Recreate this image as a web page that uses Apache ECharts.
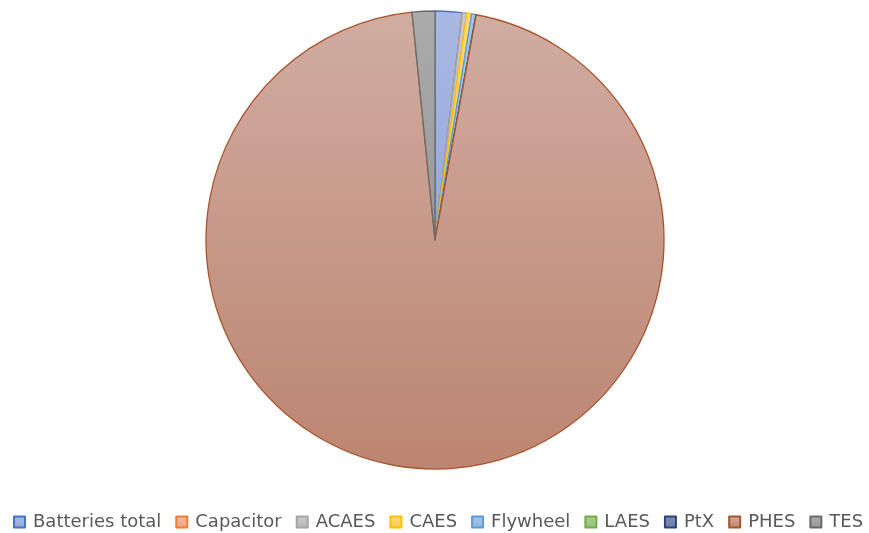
<!DOCTYPE html>
<html><head><meta charset="utf-8">
<script src="https://cdn.jsdelivr.net/npm/echarts@6/dist/echarts.min.js"></script>
<style>html,body{margin:0;padding:0;background:#fff}#c{width:869px;height:533px}</style>
</head><body><div id="c"></div>
<script>
const categories = ['Batteries total','Capacitor','ACAES','CAES','Flywheel','LAES','PtX','PHES','TES'];
const values = [1.9, 0.01, 0.3, 0.35, 0.3, 0.01, 0.01, 95.5, 1.6];
const topColors = ['#A9B9E2','#F5B79A','#C9C9C9','#FFD974','#A6C6E8','#A9CF93','#7F8DAF','#D1ACA1','#ABABAB'];
const bottomColors = ['#94A8DA','#EFA585','#B7B7B7','#FCCB53','#8FB5E0','#95C27B','#6E7EA2','#BC8571','#999999'];
const borderColors = ['#4472C4','#ED7D31','#A5A5A5','#FFC000','#5B9BD5','#70AD47','#264478','#A9552C','#6B6B6B'];

const chart = echarts.init(document.getElementById('c'), null, {renderer:'canvas'});
chart.setOption({
  animation:false,
  legend:{
    top:513, left:13, width:856, padding:0, icon:'rect', itemWidth:11, itemHeight:11, itemGap:14,
    textStyle:{color:'#595959', fontSize:18, fontFamily:'DejaVu Sans', padding:[0,0,0,3]},
    data:categories
  },
  series:[{
    type:'pie', center:[435,240], radius:229, startAngle:90, clockwise:true,
    label:{show:false}, labelLine:{show:false},
    emphasis:{disabled:true},
    data:categories.map((n,i)=>({name:n, value:values[i], itemStyle:{
      color:{type:'linear',x:0,y:0,x2:0,y2:1,colorStops:[{offset:0,color:topColors[i]},{offset:1,color:bottomColors[i]}]},
      borderColor:borderColors[i], borderWidth:1.3
    }}))
  }]
});
</script></body></html>
